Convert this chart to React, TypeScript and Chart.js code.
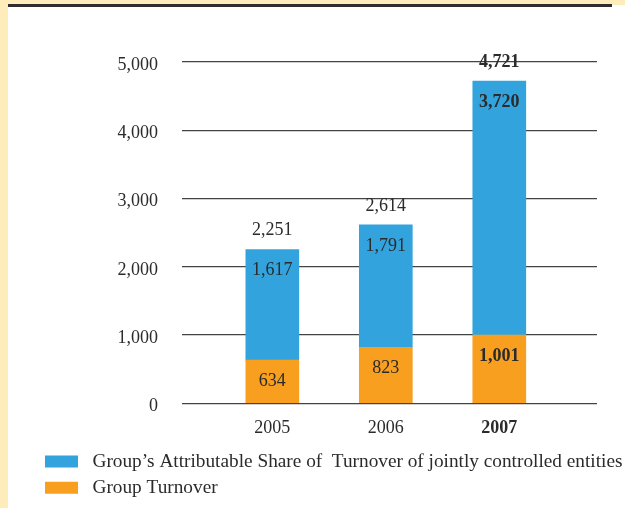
import React, { useEffect, useRef } from "react";
import { Chart, registerables } from "chart.js";

Chart.register(...registerables);

const years = [2005, 2006, 2007];
const groupTurnover = [634, 823, 1001];
const attributableShare = [1617, 1791, 3720];
const totals = [2251, 2614, 4721];
const yTicks = [0, 1000, 2000, 3000, 4000, 5000];
const seriesLabels = [
  "Group Turnover",
  "Group\u2019s Attributable Share of  Turnover of jointly controlled entities",
];

const FONT = '"Liberation Serif", "Times New Roman", serif';
const TEXT = "#2b2b2b";
const BLUE = "#33a3dd";
const ORANGE = "#f89f1f";

const fmt = (v: number) => v.toLocaleString("en-US");

export default function App() {
  const ref = useRef<HTMLCanvasElement | null>(null);

  useEffect(() => {
    if (!ref.current) return;
    const labelPlugin = {
      id: "valueLabels",
      afterDatasetsDraw(chart: any) {
        const ctx = chart.ctx;
        const m0 = chart.getDatasetMeta(0);
        const m1 = chart.getDatasetMeta(1);
        ctx.save();
        ctx.textAlign = "center";
        ctx.textBaseline = "middle";
        ctx.fillStyle = TEXT;
        years.forEach((yr, i) => {
          const bold = yr === 2007;
          ctx.font = `${bold ? "bold " : ""}18px ${FONT}`;
          const b0 = m0.data[i];
          const b1 = m1.data[i];
          ctx.fillText(fmt(groupTurnover[i]), b0.x, b0.y + 21);
          ctx.fillText(fmt(attributableShare[i]), b1.x, b1.y + 21);
          ctx.fillText(fmt(totals[i]), b1.x, b1.y - 19);
        });
        ctx.restore();
      },
    };

    const chart = new Chart(ref.current, {
      type: "bar",
      data: {
        datasets: [
          {
            label: seriesLabels[0],
            data: years.map((x, i) => ({ x, y: groupTurnover[i] })),
            backgroundColor: ORANGE,
            barThickness: 53,
          },
          {
            label: seriesLabels[1],
            data: years.map((x, i) => ({ x, y: attributableShare[i] })),
            backgroundColor: BLUE,
            barThickness: 53,
          },
        ],
      },
      plugins: [labelPlugin],
      options: {
        responsive: false,
        animation: false,
        layout: { padding: { left: 38, right: 0, top: 62, bottom: 0.5 } },
        plugins: {
          tooltip: { enabled: false },
          legend: {
            position: "bottom",
            align: "start",
            reverse: true,
            labels: {
              boxWidth: 33,
              boxHeight: 12,
              padding: 7,
              color: TEXT,
              font: { family: FONT, size: 19.3 },
              generateLabels: (c: any) =>
                (Chart.defaults.plugins.legend.labels as any)
                  .generateLabels(c)
                  .map((l: any) => ({ ...l, text: " " + l.text, lineWidth: 0 })),
            },
          },
        },
        scales: {
          x: {
            type: "linear",
            stacked: true,
            offset: false,
            min: 2004.204,
            max: 2007.861,
            grid: { display: false, offset: false },
            border: { display: false },
            afterBuildTicks: (scale: any) => {
              scale.ticks = years.map((v) => ({ value: v }));
            },
            afterFit: (scale: any) => {
              scale.height = 41.5;
            },
            ticks: {
              padding: 6,
              color: TEXT,
              autoSkip: false,
              maxRotation: 0,
              callback: (v: any) => String(v),
              font: (ctx: any) => ({
                family: FONT,
                size: 18,
                weight: ctx.tick && ctx.tick.value === 2007 ? "bold" : "normal",
              }),
            },
          },
          y: {
            stacked: true,
            min: 0,
            max: 5000,
            afterBuildTicks: (scale: any) => {
              scale.ticks = yTicks.map((v) => ({ value: v }));
            },
            afterFit: (scale: any) => {
              scale.width = 144;
            },
            grid: { color: "#444", lineWidth: 1.3, drawTicks: false },
            border: { display: false },
            ticks: {
              padding: 24,
              labelOffset: 3,
              color: TEXT,
              font: { family: FONT, size: 18 },
              callback: (v: any) => fmt(Number(v)),
            },
          },
          spacer: {
            type: "linear",
            position: "right",
            display: true,
            min: 0,
            max: 1,
            grid: { display: false, drawTicks: false },
            border: { display: false },
            ticks: { display: false },
            afterFit: (scale: any) => {
              scale.width = 28;
            },
          },
        },
      },
    } as any);
    return () => chart.destroy();
  }, []);

  return (
    <div
      style={{
        position: "fixed",
        left: 0,
        top: 0,
        width: 625,
        height: 508,
        background: "#feedba",
        overflow: "hidden",
      }}
    >
      <div
        style={{
          position: "absolute",
          left: 8,
          top: 5,
          right: 0,
          bottom: 0,
          background: "#ffffff",
        }}
      />
      <div
        style={{
          position: "absolute",
          left: 8,
          top: 4,
          width: 604,
          height: 3,
          background: "#2e2e2e",
        }}
      />
      <canvas
        ref={ref}
        width={625}
        height={508}
        style={{ position: "absolute", left: 0, top: 0, width: 625, height: 508 }}
      />
    </div>
  );
}
